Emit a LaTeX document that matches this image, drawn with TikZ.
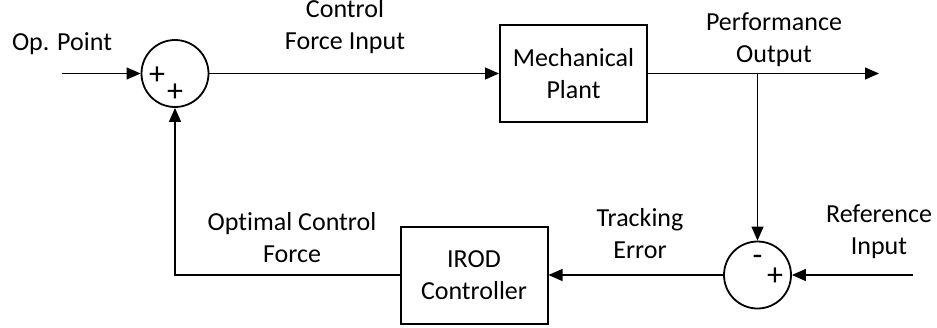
\documentclass[tikz,border=0pt]{standalone}
\usepackage{fontspec}
\setmainfont{Carlito}[Ligatures=NoCommon]
\usetikzlibrary{arrows.meta}

\tikzset{
  block/.style={draw, line width=2pt, minimum width=147pt, minimum height=97pt, inner sep=0pt, align=center},
  sumnode/.style={draw, circle, line width=1.8pt, minimum size=67pt, inner sep=0pt},
  sig/.style={line width=1.2pt},
  lbl/.style={align=center, inner sep=0pt},
  sgn/.style={inner sep=0pt, font=\fontsize{32}{32}\selectfont},
}

\begin{document}
\begin{tikzpicture}[x=1pt,y=-1pt,>={Triangle[length=14pt,width=12pt]},font=\fontsize{26}{32}\selectfont]
  \useasboundingbox (0,0) rectangle (937,327);

  % summing junctions and blocks
  \node[sumnode] (sumA) at (175,73.5) {};
  \node[sgn] (sumAin) at (157,76) {+};
  \node[sgn] (sumAfb) at (175,93) {+};
  \node[block] (plant) at (573.5,73.5) {Mechanical\\Plant};

  \node[sumnode] (sumB) at (757.5,275) {};
  \node[sgn] (sumBmin) at (757.5,260) {-};
  \node[sgn] (sumBplus) at (775,277) {+};
  \node[block] (irod) at (474,275) {IROD\\Controller};

  % free ends and corners
  \coordinate (opin) at (62,73.5);
  \coordinate (perfout) at (879,73.5);
  \coordinate (branch) at (757.5,73.5);
  \coordinate (refin) at (913,275);
  \coordinate (corner) at (175,275);

  % signals
  \draw[sig,->] (opin) -- (sumA);
  \draw[sig,->] (sumA) -- (plant);
  \draw[sig,->] (plant) -- (perfout);
  \draw[sig,->] (branch) -- (sumB.north);
  \draw[sig,->] (refin) -- (sumB);
  \draw[sig,->] (sumB) -- (irod);
  \draw[sig,->] (irod) -- (corner) -- (sumA);

  % labels
  \node[lbl] (opLbl) at (62,44) {Op. Point};
  \node[lbl] (ctrlLbl) at (345,27) {Control\\Force Input};
  \node[lbl] (perfLbl) at (774,40) {Performance\\Output};
  \node[lbl] (refLbl) at (879,232) {Reference\\Input};
  \node[lbl] (errLbl) at (640,234) {Tracking\\Error};
  \node[lbl] (optLbl) at (292,238) {Optimal Control\\Force};
\end{tikzpicture}
\end{document}
